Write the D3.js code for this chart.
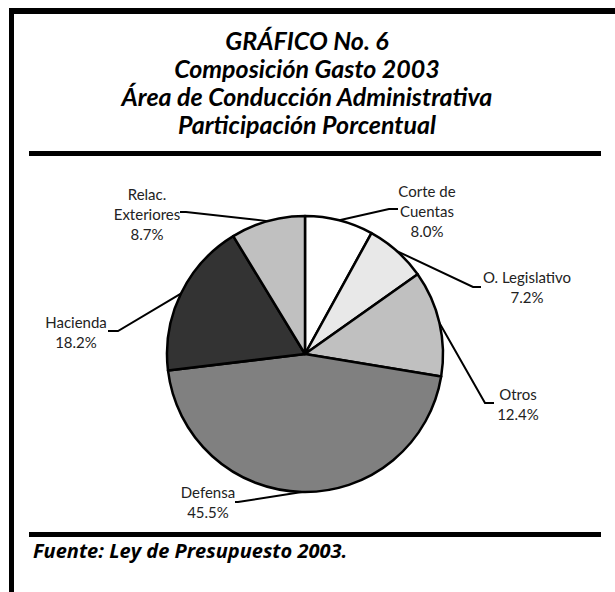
<!DOCTYPE html>
<html><head><meta charset="utf-8">
<script src="https://cdn.jsdelivr.net/npm/d3@7"></script>
<style>
body{margin:0;background:#fff;}
svg{display:block;}
</style></head>
<body>
<script>
// ---- data ----
const categories = ["Corte de Cuentas", "O. Legislativo", "Otros", "Defensa", "Hacienda", "Relac. Exteriores"];
const values = [8.0, 7.2, 12.4, 45.5, 18.2, 8.7];
const labelLines = [["Corte de", "Cuentas"], ["O. Legislativo"], ["Otros"], ["Defensa"], ["Hacienda"], ["Relac.", "Exteriores"]];
const fills = ["#ffffff", "#e8e8e8", "#c0c0c0", "#808080", "#333333", "#c0c0c0"];
const titleLines = ["GRÁFICO No. 6", "Composición Gasto 2003", "Área de Conducción Administrativa", "Participación Porcentual"];
const sourceText = "Fuente: Ley de Presupuesto 2003.";

// ---- layout ----
const W = 615, H = 592;
const cx = 305, cy = 354, R = 138;
// label layout: text centre x, first baseline y, elbow point, end point of leader
const labelLayout = [
  {tx: 427, ty: 197, elbow: [389, 209], end: [398, 209]},
  {tx: 527, ty: 283, elbow: [473, 287], end: [481, 287]},
  {tx: 518, ty: 400, elbow: [485, 403], end: [494, 403]},
  {tx: 208, ty: 498, elbow: [238, 502], end: [235, 502]},
  {tx: 76,  ty: 328, elbow: [118, 331], end: [108, 331]},
  {tx: 147, ty: 200, elbow: [186, 212], end: [180, 212]}
];

const svg = d3.select("body").append("svg").attr("width", W).attr("height", H);

// frame
svg.append("rect").attr("x", 9).attr("y", 8).attr("width", W - 9).attr("height", 6).attr("fill", "#000");
svg.append("rect").attr("x", 9).attr("y", 8).attr("width", 5).attr("height", H - 8).attr("fill", "#000");
svg.append("rect").attr("x", 29).attr("y", 151).attr("width", 572).attr("height", 5).attr("fill", "#000");
svg.append("rect").attr("x", 29).attr("y", 532).attr("width", 572).attr("height", 5).attr("fill", "#000");

// title
const tf = "Lato, 'Open Sans', sans-serif";
svg.append("g").selectAll("text").data(titleLines).join("text")
  .attr("x", 307).attr("y", (d, i) => 50 + i * 28)
  .attr("text-anchor", "middle")
  .attr("font-family", tf).attr("font-weight", "bold").attr("font-style", "italic")
  .attr("font-size", 25).attr("fill", "#000")
  .text(d => d);

// source
svg.append("text").attr("x", 33).attr("y", 558)
  .attr("font-family", "'Open Sans', Lato, sans-serif").attr("font-weight", "bold").attr("font-style", "italic")
  .attr("font-size", 20).attr("fill", "#000").text(sourceText);

// pie
const pie = d3.pie().sort(null).value(d => d)(values);
const arc = d3.arc().innerRadius(0).outerRadius(R);
const g = svg.append("g").attr("transform", `translate(${cx},${cy})`);
g.selectAll("path").data(pie).join("path")
  .attr("d", arc)
  .attr("fill", (d, i) => fills[i])
  .attr("stroke", "#000").attr("stroke-width", 2.5).attr("stroke-linejoin", "round");

// leader lines
pie.forEach((d, i) => {
  const a = (d.startAngle + d.endAngle) / 2;
  const sx = cx + R * Math.sin(a), sy = cy - R * Math.cos(a);
  const L = labelLayout[i];
  svg.append("polyline")
    .attr("points", [[sx, sy], L.elbow, L.end].map(p => p.join(",")).join(" "))
    .attr("fill", "none").attr("stroke", "#000").attr("stroke-width", 2);
  const lines = labelLines[i].concat([d3.format(".1f")(values[i]) + "%"]);
  svg.append("g").selectAll("text").data(lines).join("text")
    .attr("x", L.tx).attr("y", (t, j) => L.ty + j * 20)
    .attr("text-anchor", "middle")
    .attr("font-family", tf).attr("font-size", 15).attr("fill", "#222")
    .text(t => t);
});
</script>
</body></html>
